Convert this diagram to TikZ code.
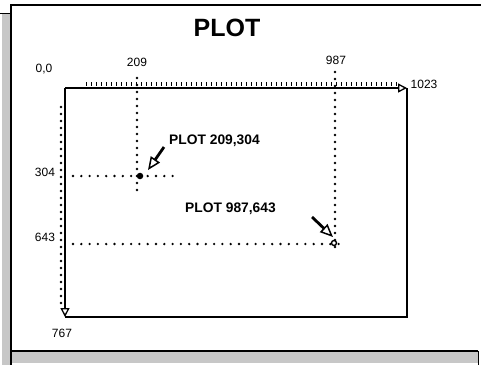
\documentclass[tikz,border=0pt]{standalone}
\usepackage{fontspec}
\setmainfont{Liberation Sans}
\usetikzlibrary{arrows.meta}
\begin{document}
\begin{tikzpicture}[x=1pt,y=-1pt,
  edge/.style={line width=1.7pt},
  frameline/.style={line width=1.4pt},
  dotv/.style={line width=2.6pt,line cap=round,dash pattern=on 0pt off 7pt},
  doth/.style={line width=2.6pt,line cap=round,dash pattern=on 0pt off 8.3pt},
  ticks/.style={line width=4pt,dash pattern=on 1.4pt off 3.6pt},
  numlabel/.style={font=\fontsize{12}{13}\selectfont,inner sep=0pt,text depth=0pt},
  boldlabel/.style={font=\fontsize{13.8}{15}\selectfont\bfseries,inner sep=0pt,text depth=0pt},
  pointer/.style={line width=2.8pt,-{Triangle[open,length=13pt,width=11pt,line width=1.5pt]}},
  mainarrow/.style={edge,-{Triangle[open,length=9pt,width=9pt,line width=1.3pt]}},
  dotpt/.style={circle,draw,line width=1.4pt,inner sep=0pt,minimum size=5pt}
]
\useasboundingbox (0,0) rectangle (481,365);
% scanned page frame
\fill[black!22] (2,13) rectangle (11,365);
\fill[black!22] (11,351) rectangle (478,363);
\draw[line width=0.8pt] (0,13) -- (11,13);
\draw[frameline] (10,5) -- (481,5);
\draw[frameline] (11,5) -- (11,365);
\draw[frameline] (11,351) -- (478,351);
\draw[line width=0.8pt] (478,351) -- (478,365);
% title
\node[font=\fontsize{25}{28}\selectfont\bfseries,inner sep=0pt,text depth=0pt] (title) at (227,28) {PLOT};
% corners
\coordinate (tl) at (65,88);
\coordinate (tr) at (407,88);
\coordinate (bl) at (65,317);
\coordinate (br) at (407,317);
% dotted guides
\coordinate (tk1) at (86,84);
\coordinate (tk2) at (400,84);
\draw[ticks] (tk1) -- (tk2);
\coordinate (lv1) at (61,107);
\coordinate (lv2) at (61,306);
\draw[dotv] (lv1) -- (lv2);
\coordinate (va1) at (137,78);
\coordinate (va2) at (137,191);
\draw[dotv] (va1) -- (va2);
\coordinate (vb1) at (335,72);
\coordinate (vb2) at (335,251);
\draw[dotv] (vb1) -- (vb2);
\coordinate (ha1) at (73,176);
\coordinate (ha2) at (173,176);
\draw[doth] (ha1) -- (ha2);
\coordinate (hb1) at (73,244);
\coordinate (hb2) at (346,244);
\draw[doth] (hb1) -- (hb2);
% screen rectangle
\draw[edge] (bl) -- (br) -- (tr);
\draw[mainarrow] (tl) -- (tr);
\draw[mainarrow] (tl) -- (bl);
% plotted points
\node[dotpt,fill=black] (p1) at (140,176) {};
\node[dotpt,fill=white] (p2) at (334,243) {};
% labels
\node[numlabel] (l00) at (44,68) {0,0};
\node[numlabel] (l209) at (137,62) {209};
\node[numlabel] (l987) at (336,60) {987};
\node[numlabel] (l1023) at (424,84) {1023};
\node[numlabel] (l304) at (45,172) {304};
\node[numlabel] (l643) at (45,237) {643};
\node[numlabel] (l767) at (62,333) {767};
\node[boldlabel] (c1) at (214.5,139.5) {PLOT 209,304};
\node[boldlabel] (c2) at (230.5,207.5) {PLOT 987,643};
% pointers
\coordinate (a1s) at (164,147);
\coordinate (a1e) at (148,170);
\draw[pointer] (a1s) -- (a1e);
\coordinate (a2s) at (312,217);
\coordinate (a2e) at (333,237);
\draw[pointer] (a2s) -- (a2e);
\end{tikzpicture}
\end{document}
